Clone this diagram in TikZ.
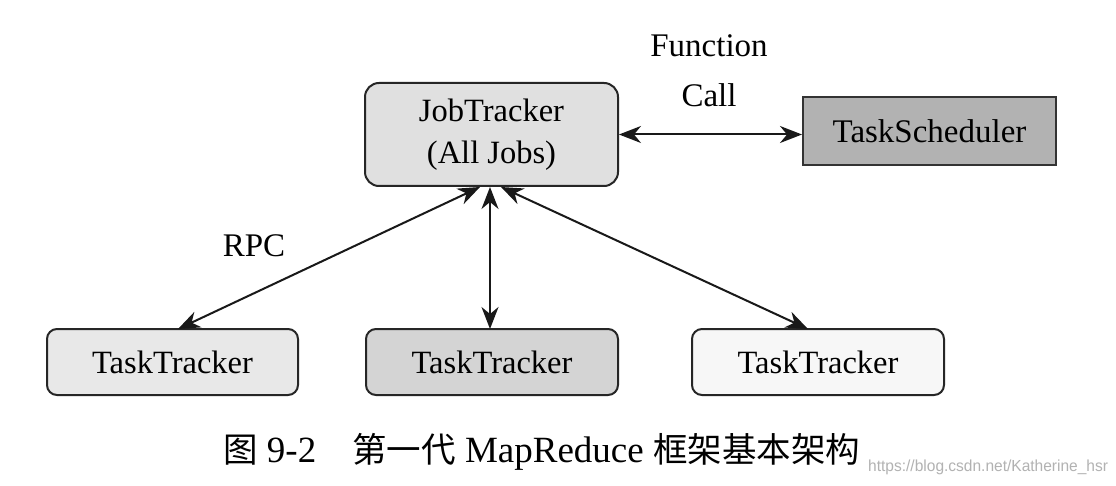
\documentclass[tikz,border=0pt]{standalone}
\usepackage{fontspec}
\setmainfont{Liberation Serif}
\newfontfamily\cjk{Noto Sans CJK SC}
\newfontfamily\wmfont{Liberation Sans}
\usetikzlibrary{arrows.meta}
\definecolor{jtfill}{gray}{0.88}
\definecolor{tsfill}{gray}{0.70}
\definecolor{ttA}{gray}{0.91}
\definecolor{ttB}{gray}{0.83}
\definecolor{ttC}{gray}{0.97}
\tikzset{
  box/.style={draw=black!85, line width=2pt, rounded corners=14pt, align=center,
    font=\fontsize{32.5}{42}\selectfont, inner sep=0pt},
  sqbox/.style={draw=black!80, line width=2pt, align=center,
    font=\fontsize{33}{38}\selectfont, inner sep=0pt},
  conn/.style={line width=2pt, black!90,
    {Stealth[length=22pt,width=17pt,inset=7pt]}-{Stealth[length=22pt,width=17pt,inset=7pt]}},
  lbl/.style={font=\fontsize{33}{36}\selectfont, inner sep=0pt},
}
\begin{document}
\begin{tikzpicture}[x=1pt,y=-1pt]
\useasboundingbox[fill=white] (0,0) rectangle (1116,486);
\node[box, fill=jtfill, minimum width=253pt, minimum height=103pt] (jt) at (491.5,134.5) {JobTracker\\(All Jobs)};
\node[sqbox, fill=tsfill, minimum width=253pt, minimum height=68pt] (ts) at (929.5,131) {TaskScheduler};
\node[box, fill=ttA, rounded corners=10pt, minimum width=251pt, minimum height=66pt] (tt1) at (172.5,362) {TaskTracker};
\node[box, fill=ttB, rounded corners=10pt, minimum width=252pt, minimum height=66pt] (tt2) at (492,362) {TaskTracker};
\node[box, fill=ttC, rounded corners=10pt, minimum width=252pt, minimum height=66pt] (tt3) at (818,362) {TaskTracker};
\coordinate (jtb1) at (480,187);
\coordinate (jtb2) at (490,187);
\coordinate (jtb3) at (501,187);
\coordinate (tt1t) at (178,329);
\coordinate (tt2t) at (490,329);
\coordinate (tt3t) at (808,329);
\draw[conn] (jt.east) -- (ts.west |- jt.east);
\draw[conn] (jtb1) -- (tt1t);
\draw[conn] (jtb2) -- (tt2t);
\draw[conn] (jtb3) -- (tt3t);
\node[lbl] (fn) at (709,46) {Function};
\node[lbl] (call) at (709,95) {Call};
\node[lbl] (rpc) at (254,246) {RPC};
\node[inner sep=0pt, anchor=west, font=\fontsize{37}{40}\selectfont] (cap) at (223,452)
  {{\cjk\fontsize{34.5}{40}\selectfont 图} 9-2\hspace{36pt}{\cjk\fontsize{34.5}{40}\selectfont 第一代} MapReduce {\cjk\fontsize{34.5}{40}\selectfont 框架基本架构}};
\node[inner sep=0pt, anchor=west, text=black!30, font=\wmfont\fontsize{16}{18}\selectfont] (wm) at (868,467)
  {\scalebox{0.97}[1]{https://blog.csdn.net/Katherine\_hsr}};
\end{tikzpicture}
\end{document}
